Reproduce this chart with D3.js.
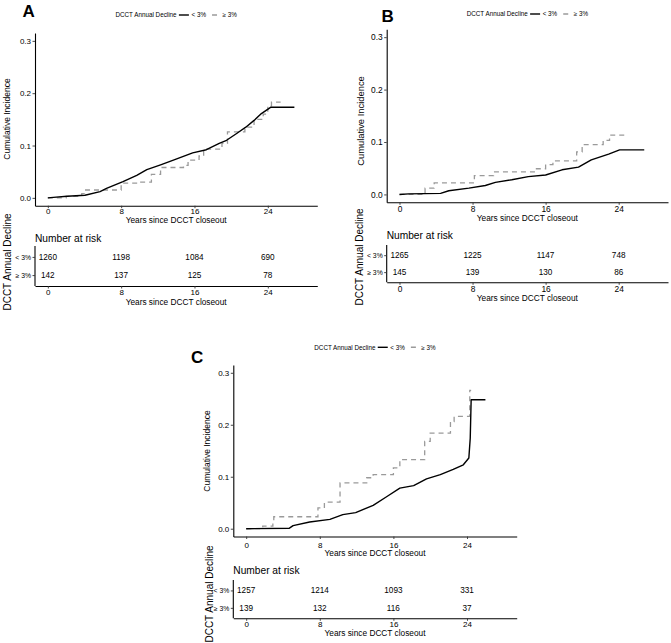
<!DOCTYPE html>
<html><head><meta charset="utf-8">
<script src="https://cdn.jsdelivr.net/npm/d3@7"></script>
<style>body{margin:0;background:#fff} text{font-family:"Liberation Sans",Arial,sans-serif;fill:#000}</style>
</head><body><svg id="c" width="671" height="643"></svg>
<script>
// ---------- data ----------
const years = [0, 8, 16, 24];
const yTicks = [0, 0.1, 0.2, 0.3];
const groups = ["< 3%", "≥ 3%"];
const legendTitle = "DCCT Annual Decline";
const xTitle = "Years since DCCT closeout";
const yTitle = "Cumulative Incidence";
const riskTitle = "Number at risk";
const riskYTitle = "DCCT Annual Decline";

// curves: [years, cumulative incidence]
const aLow = [[0,0],[0.6,0.001],[2.1,0.003],[4.05,0.005],[5.7,0.012],[6.4,0.018],[8.2,0.031],[9.7,0.043],[10.8,0.054],[12.3,0.063],[13.7,0.072],[15.8,0.086],[17.3,0.092],[18.7,0.104],[19.5,0.110],[20.6,0.123],[21.6,0.135],[22.5,0.148],[23.3,0.161],[24.3,0.173],[26.9,0.173]];
const aHigh = [[0,0],[2,0.003],[3.7,0.008],[4.0,0.015],[6.5,0.015],[8.0,0.028],[10.0,0.030],[11.3,0.045],[12.3,0.058],[14.8,0.062],[15.3,0.072],[16.5,0.080],[17.0,0.093],[19.0,0.104],[19.6,0.126],[21.5,0.135],[22.5,0.150],[23.5,0.160],[24.0,0.176],[24.4,0.183],[25.4,0.183]];
const bLow = [[0,0],[1,0.001],[4.5,0.002],[5.4,0.007],[7.6,0.012],[9.4,0.017],[10.5,0.023],[12.3,0.028],[14.1,0.034],[16.0,0.037],[17.8,0.047],[19.6,0.052],[21.0,0.066],[22.9,0.077],[24.1,0.085],[26.8,0.085]];
const bHigh = [[0,0],[2.8,0.012],[3.8,0.022],[8.2,0.036],[10.3,0.043],[14.9,0.049],[16.0,0.057],[16.8,0.064],[19.4,0.081],[20.0,0.095],[22.3,0.103],[23.0,0.113],[25.0,0.113]];
const cLow = [[0,0],[4.7,0.001],[5.1,0.006],[6.9,0.013],[9.1,0.018],[10.5,0.027],[11.9,0.031],[13.8,0.045],[15.3,0.062],[16.7,0.078],[18.2,0.083],[19.6,0.096],[21.1,0.104],[22.5,0.114],[23.6,0.123],[24.2,0.136],[24.35,0.174],[24.45,0.248],[26.0,0.248]];
const cHigh = [[0,0],[1.8,0.005],[2.9,0.015],[3.0,0.023],[7.8,0.040],[8.5,0.051],[10.2,0.088],[13.1,0.098],[13.8,0.104],[16.0,0.117],[16.7,0.133],[19.4,0.168],[20.0,0.184],[22.2,0.206],[22.6,0.216],[24.3,0.266],[24.45,0.266]];

const riskALow = [1260, 1198, 1084, 690], riskAHigh = [142, 137, 125, 78];
const riskBLow = [1265, 1225, 1147, 748], riskBHigh = [145, 139, 130, 86];
const riskCLow = [1257, 1214, 1093, 331], riskCHigh = [139, 132, 116, 37];

const xDomain = [-1.4, 29.4];
const yDomain = [-0.015, 0.315];

// ---------- layout ----------
const panels = [
  {tag:"A", low:aLow, high:aHigh, rLow:riskALow, rHigh:riskAHigh,
   x0:35, x1:317.3, py0:205.7, py1:33, tagX:22.5, tagY:17.3, legY:15,
   yTitleX:7.5, yTitleY:119, yTitleSize:8.5, xTickY:211.7, xTitleY:220, tickSize:8,
   rTop:246, rBot:286, nar:238.3, rTickY:292.5, rTitleY:301.7, rYTitleX:7.5, rYTitleY:262},
  {tag:"B", low:bLow, high:bHigh, rLow:riskBLow, rHigh:riskBHigh,
   x0:386.7, x1:668, py0:202.3, py1:29.3, tagX:381.5, tagY:21.7, legY:14,
   yTitleX:361, yTitleY:121, yTitleSize:9.4, xTickY:209.3, xTitleY:218, tickSize:8.4,
   rTop:245, rBot:282.3, nar:235, rTickY:289, rTitleY:298.3, rYTitleX:359.5, rYTitleY:257},
  {tag:"C", low:cLow, high:cHigh, rLow:riskCLow, rHigh:riskCHigh,
   x0:233.3, x1:516.7, py0:536.5, py1:365, tagX:191, tagY:363.3, legY:347.3,
   yTitleX:207.5, yTitleY:451, yTitleSize:8.5, xTickY:545, xTitleY:553.3, tickSize:8,
   rTop:580, rBot:618.3, nar:570, rTickY:624.3, rTitleY:633.3, rYTitleX:209, rYTitleY:594}
];

const svg = d3.select("#c");
const GRAY = "#9a9a9a";

function styleAxis(g, fs){
  g.selectAll(".domain").attr("stroke","#000").attr("stroke-width",1.1);
  g.selectAll(".tick line").attr("stroke","#333").attr("stroke-width",0.9);
  g.selectAll(".tick text").attr("font-size",fs).attr("fill","#000").style("font-family","Liberation Sans, Arial, sans-serif");
}

panels.forEach(p => {
  const g = svg.append("g");
  const x = d3.scaleLinear().domain(xDomain).range([p.x0, p.x1]);
  const y = d3.scaleLinear().domain(yDomain).range([p.py0, p.py1]);
  const cx = (p.x0 + p.x1) / 2;

  // tag
  g.append("text").attr("x",p.tagX).attr("y",p.tagY).attr("font-size",17).attr("font-weight","bold").text(p.tag);

  // legend
  const leg = g.append("g");
  let cur = 0;
  const t1 = leg.append("text").attr("x",cur).attr("y",0).attr("dy","0.35em").attr("font-size",6.3).text(legendTitle);
  cur += t1.node().getComputedTextLength() + 2.3;
  leg.append("line").attr("x1",cur).attr("x2",cur+10).attr("y1",0).attr("y2",0).attr("stroke","#000").attr("stroke-width",1.4);
  cur += 12.6;
  const t2 = leg.append("text").attr("x",cur).attr("y",0).attr("dy","0.35em").attr("font-size",6.3).text(groups[0]);
  cur += t2.node().getComputedTextLength() + 3.5;
  leg.append("line").attr("x1",cur).attr("x2",cur+10).attr("y1",0).attr("y2",0).attr("stroke",GRAY).attr("stroke-width",1.4).attr("stroke-dasharray","0,2.5,5,2.5");
  cur += 13;
  const t3 = leg.append("text").attr("x",cur).attr("y",0).attr("dy","0.35em").attr("font-size",6.3).text(groups[1]);
  cur += t3.node().getComputedTextLength();
  leg.attr("transform",`translate(${cx - cur/2},${p.legY})`);

  // plot axes
  const ax = g.append("g").attr("transform",`translate(0,${p.py0})`)
    .call(d3.axisBottom(x).tickValues(years).tickSize(2.5).tickSizeOuter(0).tickPadding(1.5).tickFormat(d3.format("d")));
  styleAxis(ax, p.tickSize);
  ax.selectAll(".tick text").attr("y",null).attr("dy",null).attr("transform",`translate(0,${p.xTickY - p.py0})`).attr("dominant-baseline","central");
  const ay = g.append("g").attr("transform",`translate(${p.x0},0)`)
    .call(d3.axisLeft(y).tickValues(yTicks).tickSize(2.5).tickSizeOuter(0).tickPadding(1.5).tickFormat(d3.format(".1f")));
  styleAxis(ay, p.tickSize);

  g.append("text").attr("x",cx).attr("y",p.xTitleY).attr("dy","0.35em").attr("text-anchor","middle").attr("font-size",8.3).text(xTitle);
  g.append("text").attr("transform",`translate(${p.yTitleX},${p.yTitleY}) rotate(-90)`).attr("dy","0.35em").attr("text-anchor","middle").attr("font-size",p.yTitleSize).text(yTitle);

  // curves
  const line = d3.line().x(d=>x(d[0])).y(d=>y(d[1]));
  g.append("path").datum(p.high).attr("d", line.curve(d3.curveStepAfter)).attr("fill","none")
    .attr("stroke",GRAY).attr("stroke-width",1.3).attr("stroke-dasharray","5,4");
  g.append("path").datum(p.low).attr("d", d3.line().x(d=>x(d[0])).y(d=>y(d[1]))).attr("fill","none")
    .attr("stroke","#000").attr("stroke-width",1.4).attr("stroke-linejoin","round");

  // risk table
  const ry = d3.scalePoint().domain(groups).range([p.rTop, p.rBot]).padding(0.6);
  g.append("text").attr("x",p.x0).attr("y",p.nar).attr("dy","0.35em").attr("font-size",10.2).text(riskTitle);
  const rax = g.append("g").attr("transform",`translate(0,${p.rBot})`)
    .call(d3.axisBottom(x).tickValues(years).tickSize(2.5).tickSizeOuter(0).tickPadding(1.5).tickFormat(d3.format("d")));
  styleAxis(rax, p.tickSize);
  rax.selectAll(".tick text").attr("y",null).attr("dy",null).attr("transform",`translate(0,${p.rTickY - p.rBot})`).attr("dominant-baseline","central");
  const ray = g.append("g").attr("transform",`translate(${p.x0},0)`)
    .call(d3.axisLeft(ry).tickSize(2.5).tickSizeOuter(0).tickPadding(1.5));
  styleAxis(ray, 6.8);
  ray.selectAll(".domain").attr("d",`M0,${p.rTop}V${p.rBot}`);
  ray.selectAll(".tick text").attr("fill",(d,i)=> i===0 ? "#000" : "#aaa");

  [[groups[0], p.rLow],[groups[1], p.rHigh]].forEach(([grp, vals]) => {
    g.selectAll(null).data(vals).enter().append("text")
      .attr("x",(d,i)=>x(years[i])).attr("y",ry(grp)).attr("dy","0.35em")
      .attr("text-anchor","middle").attr("font-size",8.2).text(d=>d);
  });
  g.append("text").attr("x",cx).attr("y",p.rTitleY).attr("dy","0.35em").attr("text-anchor","middle").attr("font-size",8.3).text(xTitle);
  g.append("text").attr("transform",`translate(${p.rYTitleX},${p.rYTitleY}) rotate(-90)`).attr("dy","0.35em").attr("text-anchor","middle").attr("font-size",10).text(riskYTitle);
});
</script></body></html>
